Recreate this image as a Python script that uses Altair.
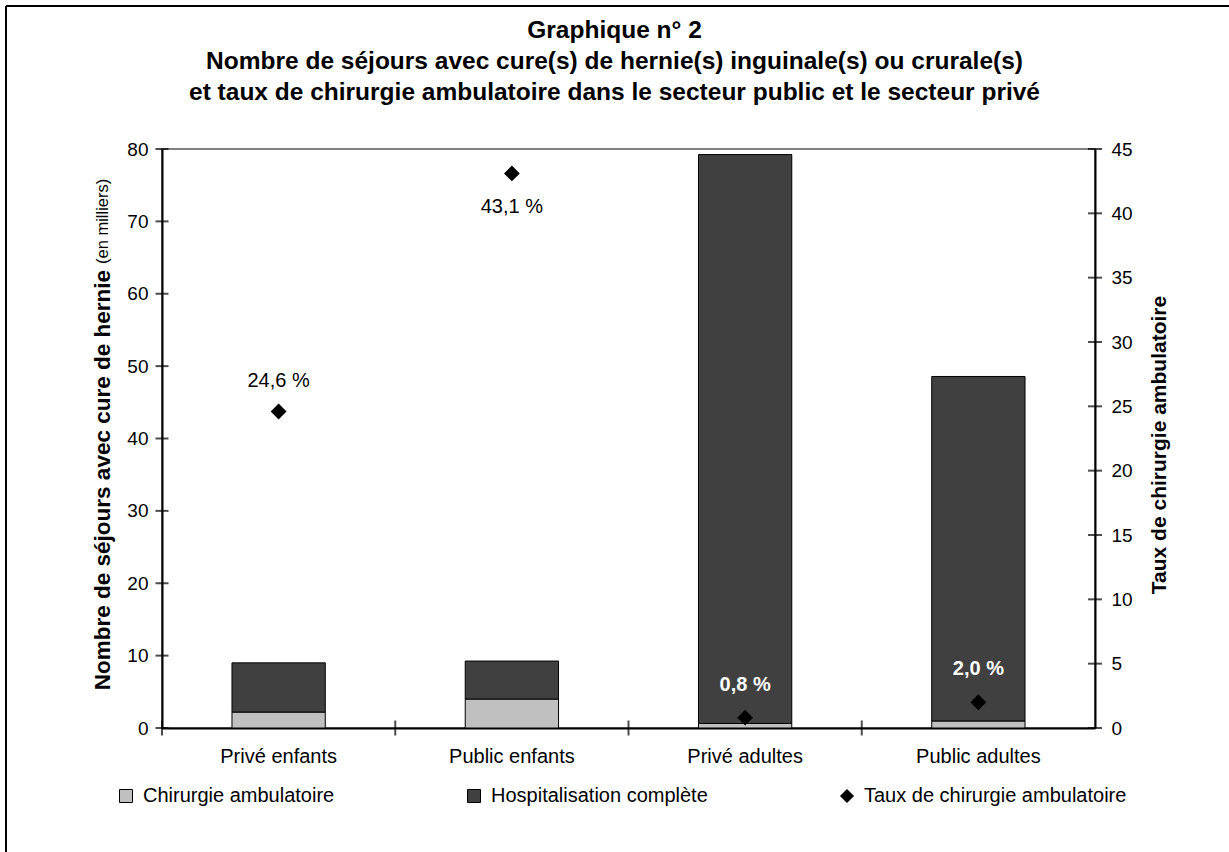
import altair as alt
import pandas as pd

categories = ["Privé enfants", "Public enfants", "Privé adultes", "Public adultes"]
ambulatoire = [2.2, 4.0, 0.63, 0.97]
hospitalisation = [6.8, 5.25, 78.6, 47.6]
taux = [24.6, 43.1, 0.8, 2.0]
taux_labels = ["24,6 %", "43,1 %", "0,8 %", "2,0 %"]
label_pos = ["above", "below", "inside", "inside"]
series = ["Chirurgie ambulatoire", "Hospitalisation complète", "Taux de chirurgie ambulatoire"]
colors = ["#C0C0C0", "#404040", "#000000"]
shapes = ["square", "square", "diamond"]
left_ticks = [0, 10, 20, 30, 40, 50, 60, 70, 80]
right_ticks = [0, 5, 10, 15, 20, 25, 30, 35, 40, 45]
title_lines = [
    "Graphique n° 2",
    "Nombre de séjours avec cure(s) de hernie(s) inguinale(s) ou crurale(s)",
    "et taux de chirurgie ambulatoire dans le secteur public et le secteur privé",
]
left_title_bold = "Nombre de séjours avec cure de hernie"
left_title_normal = "(en milliers)"
right_title = "Taux de chirurgie ambulatoire"

FONT = "Liberation Sans"
W, H = 933, 579

rows = []
for c, a, h in zip(categories, ambulatoire, hospitalisation):
    rows.append({"cat": c, "serie": series[0], "value": a, "ord": 0})
    rows.append({"cat": c, "serie": series[1], "value": h, "ord": 1})
bars_df = pd.DataFrame(rows)
pts_df = pd.DataFrame({"cat": categories, "taux": taux, "label": taux_labels,
                       "pos": label_pos, "serie": series[2]})

color_scale = alt.Scale(domain=series, range=colors)
shape_scale = alt.Scale(domain=series, range=shapes)
legend = alt.Legend(title=None, orient="none", legendX=-46, legendY=637,
                    direction="horizontal", columnPadding=129, labelFontSize=20,
                    symbolSize=169, symbolStrokeColor="black", symbolStrokeWidth=1,
                    labelOffset=7, labelLimit=500, labelColor="black")

x_axis = alt.Axis(title=None, ticks=False, labelPadding=18, labelFontSize=20,
                  labelAngle=0, domainColor="black", domainWidth=2, labelColor="black")
x_scale = alt.Scale(paddingInner=0, paddingOuter=0)

left_axis = alt.Axis(title=None, values=left_ticks, ticks=False, grid=False,
                     labelPadding=14, labelFontSize=19, domainColor="black",
                     domainWidth=2, labelColor="black")
right_axis = alt.Axis(orient="right", title=None, values=right_ticks, ticks=False,
                      grid=False, labelPadding=16, labelFontSize=19,
                      domainColor="black", domainWidth=2, labelColor="black")


def xenc(**kw):
    return alt.X("cat:N", sort=categories, scale=x_scale, axis=x_axis, **kw)


left_scale = alt.Scale(domain=[0, 80], nice=False)
right_scale = alt.Scale(domain=[0, 45], nice=False)

bars = alt.Chart(bars_df).mark_bar(
    width=alt.RelativeBandSize(0.4), stroke="black", strokeWidth=1
).encode(
    x=xenc(),
    y=alt.Y("value:Q", stack="zero", scale=left_scale, axis=left_axis),
    color=alt.Color("serie:N", scale=color_scale, legend=legend),
    order=alt.Order("ord:Q"),
)

lticks = alt.Chart(pd.DataFrame({"value": left_ticks})).mark_tick(
    orient="horizontal", size=13, thickness=2, color="black"
).encode(x=alt.value(0), y=alt.Y("value:Q", scale=left_scale, axis=left_axis))

xticks = alt.Chart(pd.DataFrame({"cat": categories})).mark_tick(
    orient="vertical", size=15, thickness=2, color="black"
).encode(x=xenc(bandPosition=0), y=alt.value(H))

frame_df = pd.DataFrame({"k": [0]})
frame_top = alt.Chart(frame_df).mark_rule(color="black", strokeWidth=2).encode(
    x=alt.value(-156), x2=alt.value(1200), y=alt.value(-143))
frame_left = alt.Chart(frame_df).mark_rule(color="black", strokeWidth=2).encode(
    x=alt.value(-156), y=alt.value(-143), y2=alt.value(800))

ltitle_b = alt.Chart(frame_df).mark_text(
    text=left_title_bold, angle=270, align="right", baseline="middle",
    fontSize=22.5, fontWeight="bold", font=FONT, color="black"
).encode(x=alt.value(-59), y=alt.value(121))
ltitle_n = alt.Chart(frame_df).mark_text(
    text=left_title_normal, angle=270, align="left", baseline="middle",
    fontSize=16.5, font=FONT, color="black"
).encode(x=alt.value(-59), y=alt.value(115))

main_title = alt.Chart(frame_df).mark_text(
    text=title_lines, align="center", baseline="middle", lineHeight=31,
    fontSize=24.5, fontWeight="bold", font=FONT, color="black"
).encode(x=alt.value(452.5), y=alt.value(-118))

left_layer = alt.layer(bars, lticks, xticks, frame_top, frame_left,
                       ltitle_b, ltitle_n, main_title)

points = alt.Chart(pts_df).mark_point(filled=True, size=250, opacity=1).encode(
    x=xenc(),
    y=alt.Y("taux:Q", scale=right_scale, axis=right_axis),
    color=alt.Color("serie:N", scale=color_scale, legend=legend),
    shape=alt.Shape("serie:N", scale=shape_scale, legend=legend),
)

rticks = alt.Chart(pd.DataFrame({"taux": right_ticks})).mark_tick(
    orient="horizontal", size=14, thickness=2, color="black"
).encode(x=alt.value(W), y=alt.Y("taux:Q", scale=right_scale, axis=right_axis))


def label_layer(pos, dy, color, weight, size):
    return alt.Chart(pts_df).transform_filter(
        alt.datum.pos == pos
    ).mark_text(dy=dy, color=color, fontWeight=weight, fontSize=size, font=FONT).encode(
        x=xenc(), y=alt.Y("taux:Q", scale=right_scale, axis=right_axis), text="label:N")


lab_above = label_layer("above", -30, "black", "normal", 20)
lab_below = label_layer("below", 34, "black", "normal", 20)
lab_inside = label_layer("inside", -33, "white", "bold", 20)

rtitle = alt.Chart(frame_df).mark_text(
    text=right_title, angle=270, align="center", baseline="middle",
    fontSize=21, fontWeight="bold", font=FONT, color="black"
).encode(x=alt.value(998), y=alt.value(296))

right_layer = alt.layer(points, rticks, lab_above, lab_below, lab_inside, rtitle)

chart = alt.layer(left_layer, right_layer).resolve_scale(y="independent").properties(
    width=W, height=H,
    autosize=alt.AutoSizeParams(type="none"),
    padding={"left": 162, "top": 149, "right": 134, "bottom": 124},
).configure(font=FONT, background="white").configure_view(
    stroke="#808080", strokeWidth=2
).configure_axis(labelFont=FONT).configure_legend(labelFont=FONT)

chart.save("out.html", embed_options={"renderer": "svg", "actions": False})
